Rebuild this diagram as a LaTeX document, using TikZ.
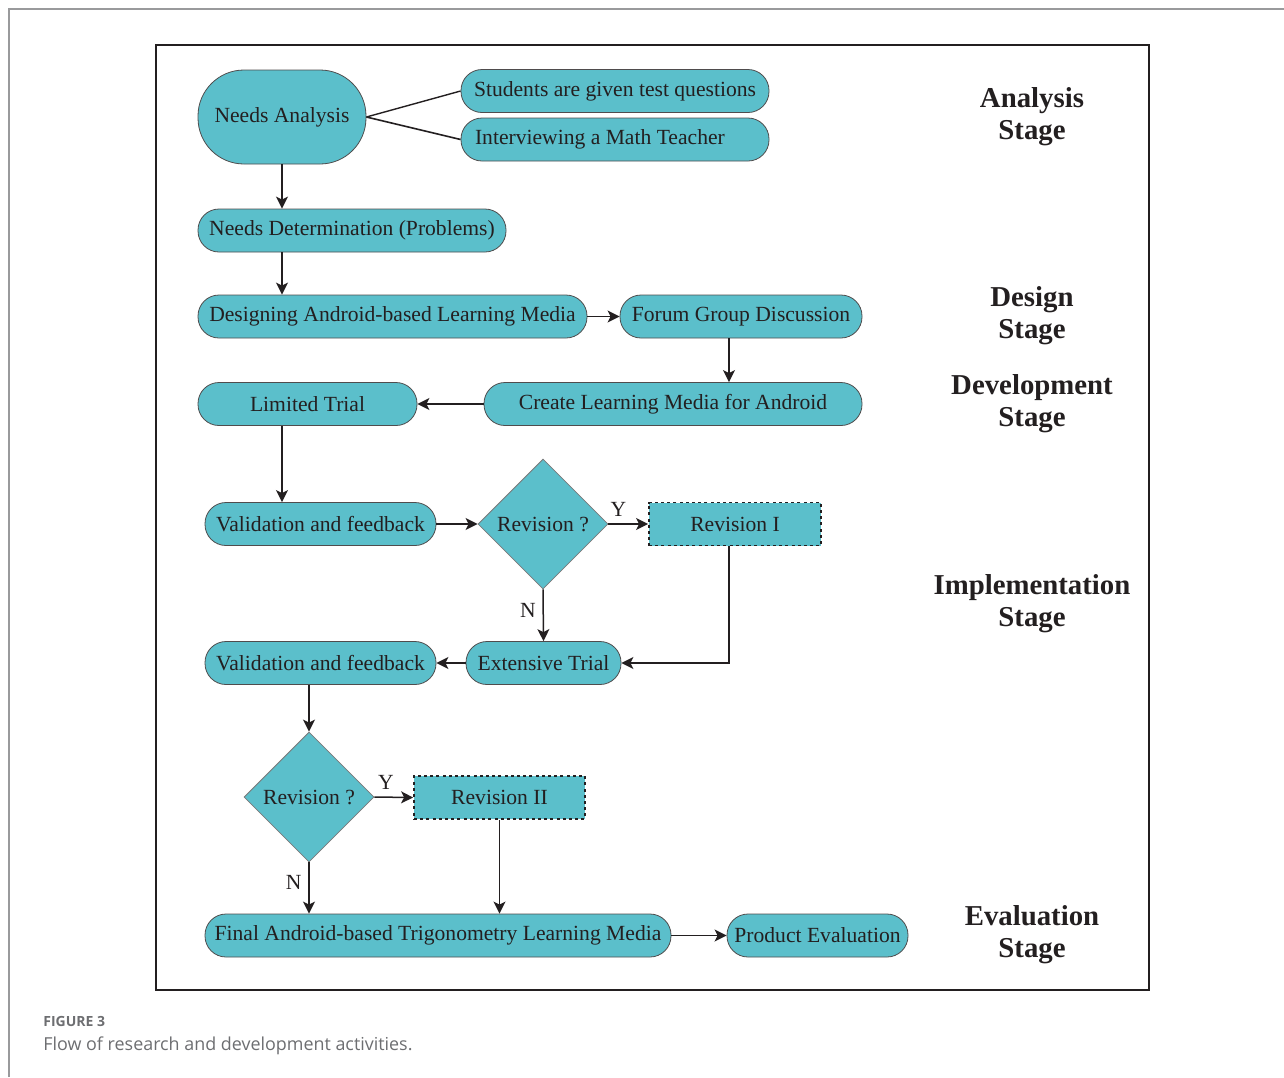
\documentclass[tikz,border=0pt]{standalone}
\usepackage{fontspec}
\setmainfont{Liberation Serif}
\newfontfamily\capfont{Open Sans}
\usetikzlibrary{arrows.meta}
\usetikzlibrary{shapes.geometric}
\definecolor{teal}{HTML}{5BBFCB}
\definecolor{ink}{HTML}{231F20}
\definecolor{capgray}{HTML}{6D6E71}

\tikzset{
  pill/.style={draw=ink!80,fill=teal,rounded corners=10.5pt,minimum height=21.5pt,inner sep=0pt,
    text=ink,font=\fontsize{10.8}{12}\selectfont},
  decision/.style={draw=ink!60,fill=teal,diamond,aspect=1,minimum width=65pt,minimum height=65pt,inner sep=0pt,
    text=ink,font=\fontsize{10.8}{12}\selectfont},
  revbox/.style={draw=ink,line width=0.9pt,dash pattern=on 1.5pt off 1.6pt,fill=teal,minimum height=21.5pt,inner sep=0pt,
    text=ink,font=\fontsize{10.8}{12}\selectfont},
  stage/.style={align=center,text=ink,font=\fontsize{14.4}{16}\selectfont\bfseries},
  yn/.style={text=ink,font=\fontsize{10.8}{12}\selectfont},
  flow/.style={draw=ink,line width=0.75pt,-{Stealth[length=6pt,width=6pt,inset=1.5pt]}},
}

\begin{document}
\begin{tikzpicture}[x=0.5pt,y=-0.5pt]
\useasboundingbox (0,0) rectangle (1284,1077);
\draw[capgray!70,line width=0.6pt] (9,1077) -- (9,9) -- (1284,9);
\draw[ink,line width=1pt] (156,45) rectangle (1149,990);

% analysis
\node[pill,rounded corners=23pt,minimum width=84pt,minimum height=47pt] (na) at (282,117) {Needs Analysis};
\node[pill,minimum width=154pt] (test) at (615,91) {Students are given test questions};
\node[pill,minimum width=154pt,text width=140pt,align=flush left] (talk) at (615,139.5) {Interviewing a Math Teacher};
\node[pill,minimum width=154pt] (nd) at (352,230.5) {Needs Determination (Problems)};

% design and development
\node[pill,minimum width=194.5pt] (dsg) at (392.5,316.5) {Designing Android-based Learning Media};
\node[pill,minimum width=121pt] (fgd) at (741,316.5) {Forum Group Discussion};
\node[pill,minimum width=189pt] (mk) at (673,404) {Create Learning Media for Android};
\node[pill,minimum width=109.5pt] (lt) at (307.5,404) {Limited Trial};

% implementation
\node[pill,minimum width=115.5pt] (vf1) at (320.5,524) {Validation and feedback};
\node[decision] (dec1) at (543,524) {Revision ?};
\node[revbox,minimum width=86pt] (rev1) at (735,524) {Revision I};
\node[pill,minimum width=77.5pt] (ext) at (543.5,663) {Extensive Trial};
\node[pill,minimum width=115.5pt] (vf2) at (320.5,663) {Validation and feedback};
\node[decision] (dec2) at (309,797) {Revision ?};
\node[revbox,minimum width=85.5pt] (rev2) at (499.5,797.5) {Revision II};

% evaluation
\node[pill,minimum width=233pt] (fin) at (438,935.5) {Final Android-based Trigonometry Learning Media};
\node[pill,minimum width=90.5pt] (pe) at (817.5,935.5) {Product Evaluation};

\coordinate (vx) at (729,0);

\draw[ink,line width=0.7pt] (na.east) -- (test.west);
\draw[ink,line width=0.8pt] (na.east) -- (talk.west);
\draw[flow] (na.south) -- (na.south |- nd.north);
\draw[flow] (nd.south -| na.south) -- (dsg.north -| na.south);
\draw[flow] (dsg.east) -- (fgd.west);
\draw[flow] (fgd.south -| vx) -- (mk.north -| vx);
\draw[flow] (mk.west) -- (lt.east);
\draw[flow] (lt.south -| na.south) -- (vf1.north -| na.south);
\draw[flow] (vf1.east) -- (dec1.west);
\draw[flow] (dec1.east) -- node[yn,above,pos=0.25] {Y} (rev1.west);
\draw[flow] (dec1.south) -- node[yn,left,pos=0.4] {N} (ext.north);
\draw[flow] (rev1.south -| vx) |- (ext.east);
\draw[flow] (ext.west) -- (vf2.east);
\draw[flow] (vf2.south -| dec2.north) -- (dec2.north);
\draw[flow] (dec2.east) -- node[yn,above,pos=0.3] {Y} (rev2.west);
\draw[flow] (dec2.south) -- node[yn,left,pos=0.4] {N} (dec2.south |- fin.north);
\draw[flow] (rev2.south) -- (rev2.south |- fin.north);
\draw[flow] (fin.east) -- (pe.west);

% stages
\node[stage] (s1) at (1032,117) {Analysis\\Stage};
\node[stage] (s2) at (1032,316) {Design\\Stage};
\node[stage] (s3) at (1032,404) {Development\\Stage};
\node[stage] (s4) at (1032,604) {Implementation\\Stage};
\node[stage] (s5) at (1032,935) {Evaluation\\Stage};

% caption
\node[anchor=base west,inner sep=0pt,text=capgray,font=\capfont\fontsize{7}{8}\selectfont\bfseries] (fig) at (43,1026) {FIGURE 3};
\node[anchor=base west,inner sep=0pt,text=capgray,font=\capfont\fontsize{8.95}{10}\selectfont] (cap) at (43,1050) {Flow of research and development activities.};
\end{tikzpicture}
\end{document}
